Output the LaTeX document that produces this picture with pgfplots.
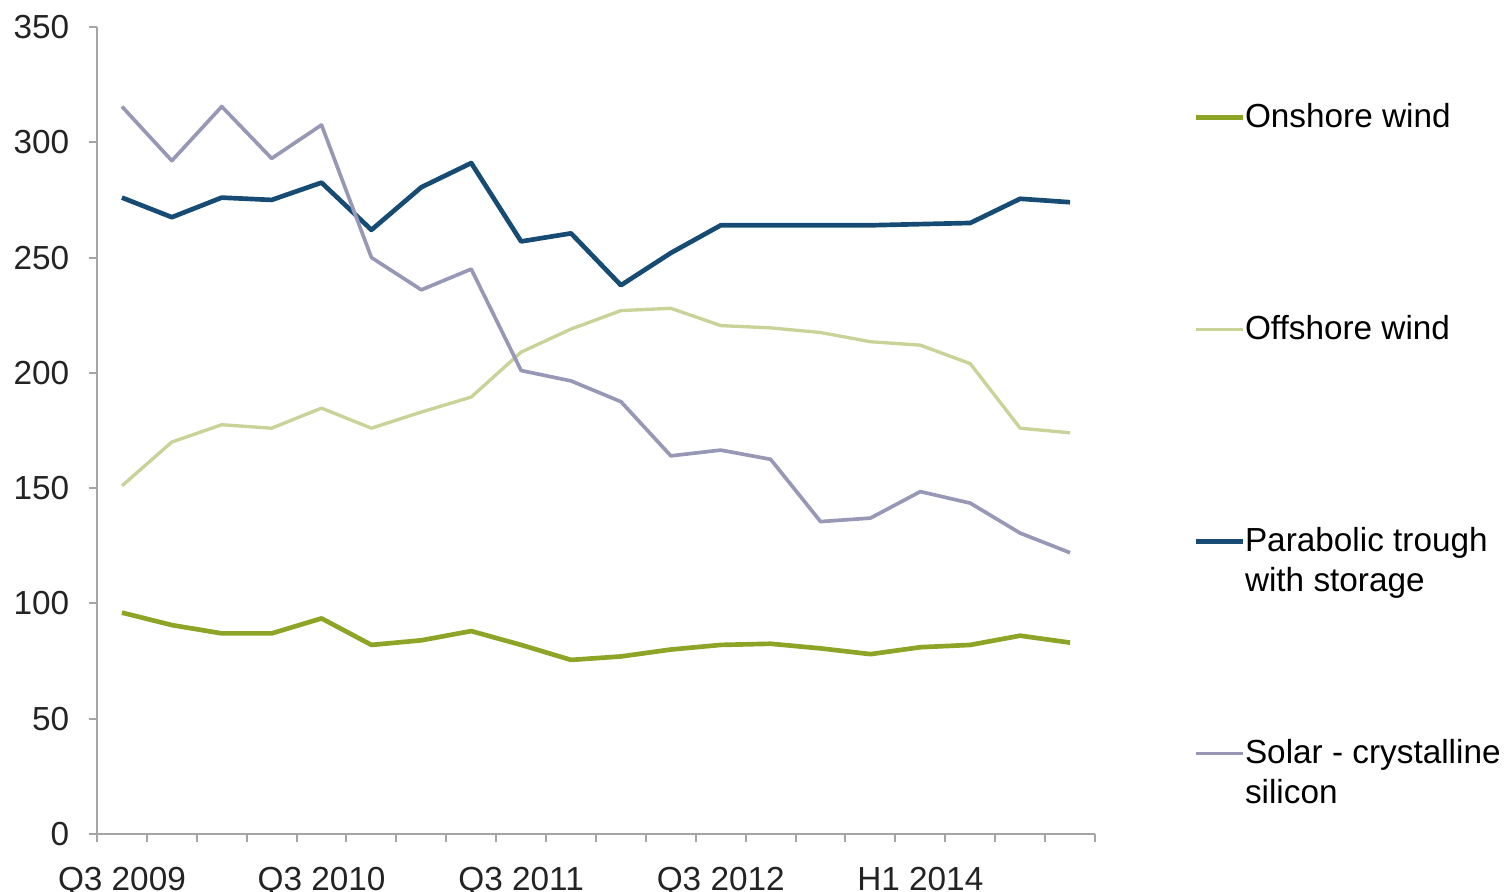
\documentclass[border=0pt]{standalone}
\usepackage{fontspec}
\setmainfont{Liberation Sans}
\usepackage{pgfplots}
\usepackage{pgfplotstable}
\pgfplotsset{compat=1.18}

\definecolor{onshore}{RGB}{141,165,38}
\definecolor{offshore}{RGB}{200,211,152}
\definecolor{trough}{RGB}{22,76,116}
\definecolor{solar}{RGB}{150,152,182}
\definecolor{axisgray}{RGB}{165,165,165}
\definecolor{labelgray}{RGB}{35,35,35}

% two-line legend text, baseline on the first line
\newcommand{\twolines}[2]{\vtop{\hbox{#1}\hbox{#2}}}

% levelised cost by period, index 0 = Q3 2009
\pgfplotstableread{
idx onshore offshore trough solar
0   96    151   276   315.5
1   90.6  170   267.5 292
2   87    177.5 276   315.5
3   87    176   275   293
4   93.5  184.7 282.5 307.5
5   82    176   262   250
6   84    183   280.5 236
7   88    189.5 291   245
8   82    209   257   201
9   75.5  219   260.5 196.5
10  77    227   238   187.5
11  80    228   252   164
12  82    220.5 264   166.5
13  82.5  219.5 264   162.5
14  80.5  217.5 264   135.5
15  78    213.5 264   137
16  81    212   264.5 148.5
17  82    204   265   143.5
18  86    176   275.5 130.5
19  83    174   274   122
}\costdata

\begin{document}
\begin{tikzpicture}
\begin{axis}[
    scale only axis,
    width=299.4pt, height=242.1pt,
    xmin=-0.5, xmax=19.5,
    ymin=0, ymax=350,
    axis lines*=left,
    axis line style={axisgray, line width=0.8pt},
    tick align=outside,
    major tick length=2.4pt,
    minor tick length=2.4pt,
    tick style={axisgray, line width=0.6pt},
    ytick={0,50,...,350},
    xtick={0,4,8,12,16},
    xticklabels={Q3 2009,Q3 2010,Q3 2011,Q3 2012,H1 2014},
    minor xtick={-0.5,0.5,...,19.5},
    major x tick style={draw=none},
    /pgf/number format/assume math mode=true,
    every tick label/.append style={font=\fontsize{10}{12}\selectfont, text=labelgray},
    yticklabel style={xshift=-2.4pt},
    xticklabel style={yshift=-4pt},
    legend cell align=left,
    legend image code/.code={\draw[#1] (0pt,0pt) -- (14pt,0pt);},
    legend style={
        at={(1.0982,0.9133)}, anchor=north west,
        draw=none, fill=none, inner sep=0pt,
        column sep=0pt, row sep=51.6pt,
        font=\fontsize{10}{12}\selectfont,
        nodes={inner sep=0pt, text height=9pt, text depth=3pt},
    },
    line join=round,
]
\addplot[onshore, line width=1.4pt] table[x=idx, y=onshore] {\costdata};
\addlegendentry{Onshore wind}
\addplot[offshore, line width=1.0pt] table[x=idx, y=offshore] {\costdata};
\addlegendentry{Offshore wind}
\addplot[trough, line width=1.4pt] table[x=idx, y=trough] {\costdata};
\addlegendentry{\twolines{Parabolic trough}{with storage}}
\addplot[solar, line width=1.1pt] table[x=idx, y=solar] {\costdata};
\addlegendentry{\twolines{Solar - crystalline}{silicon}}
\end{axis}
\pgfresetboundingbox
\path[use as bounding box] (-29.1pt,-17.4pt) rectangle (424.5pt,250.2pt);
\end{tikzpicture}
\end{document}
